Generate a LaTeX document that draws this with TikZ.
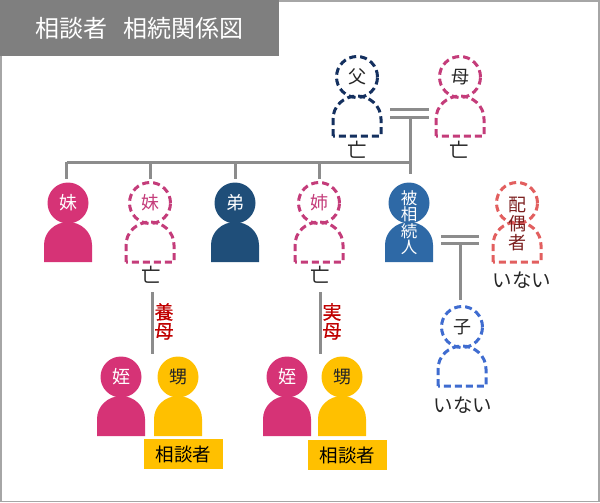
\documentclass[tikz,border=0pt]{standalone}
\usepackage{fontspec}
\setmainfont{Noto Sans CJK JP}
\newfontfamily\rolefont[FakeBold=0.6]{Noto Sans CJK JP}
\definecolor{bandgray}{HTML}{7F7F7F}
\definecolor{linegray}{HTML}{8C8C8C}
\definecolor{rosefill}{HTML}{D63376}
\definecolor{roseline}{HTML}{C43C7A}
\definecolor{navyline}{HTML}{14305F}
\definecolor{navyfill}{HTML}{1F4E79}
\definecolor{bluefill}{HTML}{2E69A6}
\definecolor{blueline}{HTML}{3F6CD0}
\definecolor{coralline}{HTML}{E25F5F}
\definecolor{darkred}{HTML}{7B1E1E}
\definecolor{redtext}{HTML}{C00000}
\definecolor{gold}{HTML}{FFC000}
\definecolor{ink}{HTML}{262626}
\begin{document}
\begin{tikzpicture}[x=1pt,y=-1pt,
            conn/.style={draw=linegray,line width=3pt},
            head/.style={circle,minimum size=41pt,inner sep=0pt,outer sep=0pt,font=\fontsize{18pt}{18pt}\selectfont},
            ghost/.style={draw=#1,line width=3pt,dash pattern=on 7pt off 4pt},
            rose solid/.style={fill=rosefill},
            navy solid/.style={fill=navyfill},
            blue solid/.style={fill=bluefill},
            gold solid/.style={fill=gold},
            rose ghost/.style={ghost=roseline},
            navy ghost/.style={ghost=navyline},
            blue ghost/.style={ghost=blueline},
            coral ghost/.style={ghost=coralline},
            upright/.style={align=center,inner sep=0pt,font=\fontsize{16.5pt}{16.5pt}\selectfont},
            note/.style={inner sep=0pt,text=ink,font=\fontsize{19.5pt}{19.5pt}\selectfont},
            role/.style={upright,text=redtext,font=\fontsize{19pt}{19pt}\rolefont},
            client/.style={fill=gold,text=black,minimum width=79pt,minimum height=30pt,inner sep=0pt,font=\fontsize{18.5pt}{18.5pt}\selectfont},
            person body/.pic={
                \path[pic actions] (-24,59) -- (-24,42) .. controls (-24,29) and (-13,19) .. (0,19)
                    .. controls (13,19) and (24,29) .. (24,42) -- (24,59) -- cycle;
            }]

        \useasboundingbox (0,0) rectangle (600,503);

        % Frame and title
        \draw[color=black!35,line width=1.5pt] (1,1) rectangle (599,501.5);
        \node[fill=bandgray,text=white,minimum width=279pt,minimum height=56pt,inner sep=0pt,font=\fontsize{24pt}{24pt}\selectfont] (title) at (139.5,28) {相談者\hspace{16pt}相続関係図};

        % Define people
        \foreach \id/\pos/\look/\inkc/\txt in {
            father/{357,77}/navy ghost/ink/父,
            mother/{460,77}/rose ghost/ink/母,
            sister/{68,203}/rose solid/white/妹,
            sistertwo/{150,203}/rose ghost/roseline/妹,
            brother/{235,203}/navy solid/white/弟,
            elder/{319,203}/rose ghost/roseline/姉,
            deceased/{409,203}/blue solid/white/{},
            spouse/{517,203}/coral ghost/darkred/{},
            child/{462,327}/blue ghost/ink/子,
            nieceone/{121,377}/rose solid/white/姪,
            nephewone/{178,377}/gold solid/ink/甥,
            niecetwo/{287,377}/rose solid/white/姪,
            nephewtwo/{342,377}/gold solid/ink/甥}{
            \path (\pos) pic[fill=white,\look] {person body};
            \node[head,\look,text=\inkc] (\id) at (\pos) {\txt};
        }

        % Text over the figures
        \node[upright,text=white] (deceased text) at (409,222.5) {被\\相\\続\\人};
        \node[upright,text=darkred,font=\fontsize{18pt}{19pt}\selectfont] (spouse text) at (517,224) {配\\偶\\者};
        \node[note] (dead father) at (357,150) {亡};
        \node[note] (dead mother) at (459,150) {亡};
        \node[note] (dead sister) at (151,275) {亡};
        \node[note] (dead elder) at (320,275) {亡};
        \node[note] (none spouse) at (522,280) {いない};
        \node[note] (none child) at (463,405) {いない};
        \node[role] (foster) at (164,321.5) {養\\母};
        \node[role] (birth) at (332,321.5) {実\\母};
        \node[client] (client one) at (183.5,454) {相談者};
        \node[client] (client two) at (347.5,455) {相談者};

        % Joints
        \coordinate (bar a left) at (390,109);
        \coordinate (bar a right) at (429,109);
        \coordinate (bar b left) at (390,117);
        \coordinate (bar b right) at (429,117);
        \coordinate (bar b mid) at (410,117);
        \coordinate (bus left) at (66.5,162);
        \coordinate (bus right) at (410,162);
        \coordinate (bus down) at (410,174);
        \coordinate (bar c left) at (441,236);
        \coordinate (bar c right) at (479,236);
        \coordinate (bar d left) at (441,243);
        \coordinate (bar d right) at (479,243);
        \coordinate (bar d mid) at (460,243);
        \coordinate (child top) at (460,300);
        \coordinate (foster top) at (152,292);
        \coordinate (foster end) at (152,354);
        \coordinate (birth top) at (320,292);
        \coordinate (birth end) at (320,354);

        % Draw edges
        \path[conn]
            (bar a left) edge (bar a right)
            (bar b left) edge (bar b right)
            (bar b mid) edge (bus down)
            (bus left) edge (bus right)
            (bus left) edge[shorten >=4pt] (sister.north -| bus left)
            (bus left -| sistertwo) edge[shorten >=4pt] (sistertwo)
            (bus left -| brother) edge[shorten >=4pt] (brother)
            (bus left -| elder) edge[shorten >=4pt] (elder)
            (bar c left) edge (bar c right)
            (bar d left) edge (bar d right)
            (bar d mid) edge (child top)
            (foster top) edge (foster end)
            (birth top) edge (birth end);

\end{tikzpicture}
\end{document}
